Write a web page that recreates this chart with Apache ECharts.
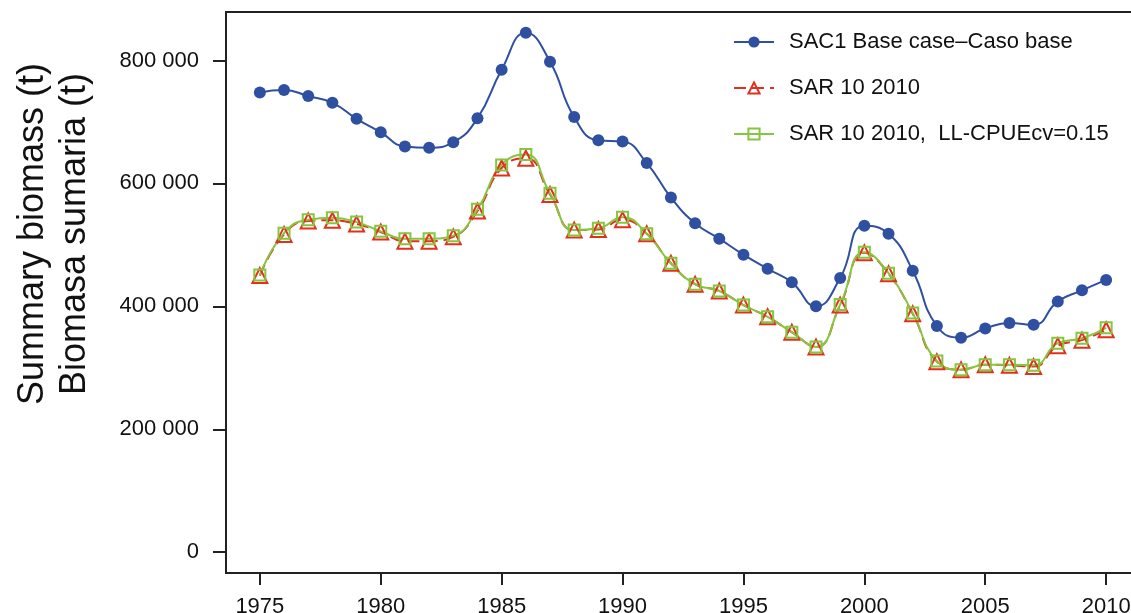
<!DOCTYPE html>
<html>
<head>
<meta charset="utf-8">
<script src="https://cdn.jsdelivr.net/npm/echarts@6/dist/echarts.min.js"></script>
<style>
html,body{margin:0;padding:0;background:#fff;}
#chart{width:1131px;height:613px;}
</style>
</head>
<body>
<div id="chart"></div>
<script>
const years = [1975,1976,1977,1978,1979,1980,1981,1982,1983,1984,1985,1986,1987,1988,1989,1990,1991,1992,1993,1994,1995,1996,1997,1998,1999,2000,2001,2002,2003,2004,2005,2006,2007,2008,2009,2010];
const sac1Base = [748000,752000,742000,731000,705000,683000,660000,658000,667000,706000,785000,845000,798000,708000,670000,668000,633000,577000,535000,510000,484000,461000,439000,400000,446000,531000,518000,458000,368000,349000,364000,373000,370000,408000,426000,443000];
const sar10 = [450000,517000,539000,540000,534000,521000,506000,506000,513000,555000,625000,641000,582000,524000,525000,541000,518000,470000,436000,425000,402000,383000,358000,334000,402000,487000,453000,388000,310000,297000,305000,304000,302000,336000,345000,362000];
const sar10cv = [451000,519000,541000,544000,537000,522000,510000,510000,515000,558000,630000,647000,584000,524000,527000,545000,518000,470000,436000,425000,402000,383000,358000,334000,403000,488000,454000,389000,311000,297000,305000,305000,304000,340000,348000,365000];
const xTicks = [1975,1980,1985,1990,1995,2000,2005,2010];
const yTicks = [0,200000,400000,600000,800000];
const seriesNames = ['SAC1 Base case\u2013Caso base','SAR 10 2010','SAR 10 2010,  LL-CPUEcv=0.15'];

const FONT = 'Liberation Sans, Arial, Helvetica, sans-serif';
const BLUE = '#2f4fa0', RED = '#e2301c', GREEN = '#86c540';
const pairs = arr => years.map((y,i)=>[y, arr[i]]);
const fmt = v => String(v).replace(/\B(?=(\d{3})+(?!\d))/g, ' ');

const chart = echarts.init(document.getElementById('chart'));
chart.setOption({
  animation: false,
  backgroundColor: '#fff',
  grid: {left: 226, top: 12, width: 914, height: 561, show: true, borderColor: '#222', borderWidth: 2, backgroundColor: 'transparent', containLabel: false, outerBoundsMode: 'none'},
  xAxis: {
    type: 'value', min: 1973.6, max: 2011.4,
    axisLine: {show: true, onZero: false, lineStyle: {color: '#222', width: 2}},
    axisTick: {show: true, length: 12, inside: false, customValues: xTicks, lineStyle: {color: '#222', width: 2}},
    axisLabel: {customValues: xTicks, fontSize: 22, fontFamily: FONT, color: '#111', margin: 23, formatter: v => String(v)},
    splitLine: {show: false}
  },
  yAxis: {
    type: 'value', min: -33800, max: 878800,
    axisLine: {show: true, onZero: false, lineStyle: {color: '#222', width: 2}},
    axisTick: {show: true, length: 13, inside: false, customValues: yTicks, lineStyle: {color: '#222', width: 2}},
    axisLabel: {customValues: yTicks, fontSize: 22, fontFamily: FONT, color: '#111', margin: 27, formatter: fmt},
    splitLine: {show: false}
  },
  graphic: [{
    type: 'text', x: 54, y: 234, rotation: Math.PI/2,
    style: {text: 'Summary biomass (t)\nBiomasa sumaria (t)', font: '36px ' + FONT, fill: '#111', align: 'center', verticalAlign: 'middle', lineHeight: 42}
  }],
  legend: {
    orient: 'vertical', left: 728, top: 24, padding: 5,
    itemWidth: 40, itemHeight: 14, itemGap: 20,
    textStyle: {fontSize: 22, fontFamily: FONT, color: '#111', lineHeight: 26, padding: [0,0,0,10]},
    data: seriesNames
  },
  series: [
    {name: seriesNames[0], type: 'line', data: pairs(sac1Base), smooth: 0.5,
     symbol: 'circle', symbolSize: 12, color: BLUE,
     lineStyle: {color: BLUE, width: 2}, itemStyle: {color: BLUE}},
    {name: seriesNames[1], type: 'line', data: pairs(sar10), smooth: 0.5,
     symbol: 'triangle', symbolSize: 15, color: RED,
     lineStyle: {color: RED, width: 2, type: [12, 6]},
     itemStyle: {color: 'rgba(255,255,255,0)', borderColor: RED, borderWidth: 2}},
    {name: seriesNames[2], type: 'line', data: pairs(sar10cv), smooth: 0.5,
     symbol: 'rect', symbolSize: 11, color: GREEN,
     lineStyle: {color: GREEN, width: 2},
     itemStyle: {color: 'rgba(255,255,255,0)', borderColor: GREEN, borderWidth: 2}}
  ]
});
</script>
</body>
</html>
